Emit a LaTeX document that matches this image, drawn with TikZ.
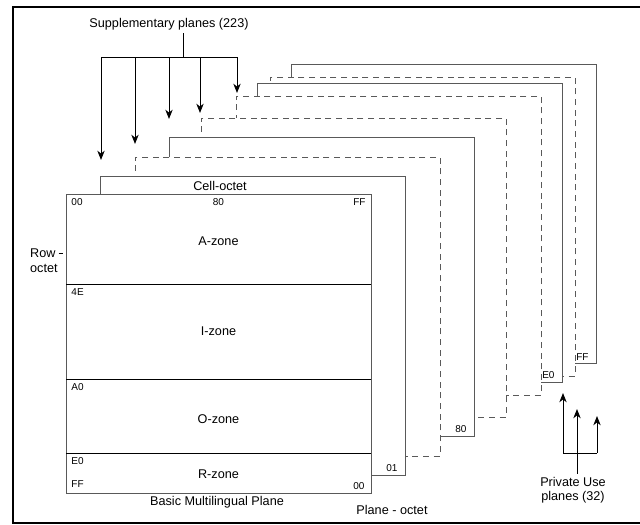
\documentclass[tikz,border=0pt]{standalone}
\usepackage{fontspec}
\setmainfont{Liberation Sans}
\usetikzlibrary{arrows.meta,positioning,calc}

\tikzset{
  plane/.style={draw=black!65, fill=white, anchor=north west, inner sep=0pt,
    outer sep=0pt, minimum width=228.75pt, minimum height=224.25pt},
  planedash/.style={dash pattern=on 4.5pt off 3.5pt},
  lbl/.style={font=\fontsize{9.5}{10.5}\selectfont, inner sep=2pt},
  hexlbl/.style={font=\fontsize{7.5}{9}\selectfont, inner sep=0pt},
}

\begin{document}
\begin{tikzpicture}[x=0.75pt, y=-0.75pt, line width=0.7pt,
    >={Stealth[length=7pt,width=5.5pt,inset=2.2pt]}]
  \useasboundingbox (0,0) rectangle (640,525);

  % Frame
  \draw[line width=1.5pt] (640,7) -- (13,7) -- (13,523) -- (640,523);

  % Planes, from the back to the front
  \foreach \n/\x/\y/\ls in {8/291/64/solid, 7/270/77/planedash, 6/257/83/solid,
      5/236/96/planedash, 4/201/118/planedash, 3/169/137/solid,
      2/135/157/planedash, 1/100/176/solid, 0/66/194/solid}
    \node[plane, \ls] (p\n) at (\x,\y) {};

  % Plane-octet values
  \node[hexlbl, anchor=south east] (pFF) at ($(p8.south east)+(-7,-2.5)$) {FF};
  \node[hexlbl, anchor=south east] (pE0) at ($(p6.south east)+(-7,-2.5)$) {E0};
  \node[hexlbl, anchor=south east] (p80) at ($(p3.south east)+(-7,-2.5)$) {80};
  \node[hexlbl, anchor=south east] (p01) at ($(p1.south east)+(-7,-2.5)$) {01};

  % Zones of the Basic Multilingual Plane
  \draw ($(p0.north west)+(0,90)$) -- ($(p0.north east)+(0,90)$);
  \draw ($(p0.north west)+(0,185)$) -- ($(p0.north east)+(0,185)$);
  \draw ($(p0.north west)+(0,259)$) -- ($(p0.north east)+(0,259)$);
  \node[lbl] (azone) at (218.5,241) {A-zone};
  \node[lbl] (izone) at (218.5,331) {I-zone};
  \node[lbl] (ozone) at (218.5,419) {O-zone};
  \node[lbl] (rzone) at (218.5,474) {R-zone};

  % Row and cell values
  \node[hexlbl, anchor=north west] (c00) at ($(p0.north west)+(5,4.5)$) {00};
  \node[hexlbl, anchor=north] (c80) at (218.5,198.5) {80};
  \node[hexlbl, anchor=north east] (cFF) at ($(p0.north east)+(-5,4.5)$) {FF};
  \node[hexlbl, anchor=north west] (r4E) at ($(p0.north west)+(5,94.5)$) {4E};
  \node[hexlbl, anchor=north west] (rA0) at ($(p0.north west)+(5,189.5)$) {A0};
  \node[hexlbl, anchor=north west] (rE0) at ($(p0.north west)+(5,263.5)$) {E0};
  \node[hexlbl, anchor=south west] (rFF) at ($(p0.south west)+(5,-5.5)$) {FF};
  \node[hexlbl, anchor=south east] (p00) at ($(p0.south east)+(-6,-2.5)$) {00};

  % Axis captions
  \node[lbl] (cell) at (220,186) {Cell-octet};
  \node[lbl, anchor=west] (row) at (27,253) {Row};
  \node[lbl, anchor=west] (octet) at (27,268) {octet};
  \draw ($(row.east)+(0,0)$) -- ($(p0.west |- row.east)+(-3,0)$);
  \node[lbl] (bmp) at (217,502) {Basic Multilingual Plane};
  \node[lbl] (planeoctet) at (392,510) {Plane - octet};

  % Supplementary planes
  \node[lbl] (supp) at (169,24) {Supplementary planes (223)};
  \coordinate (split) at (183,57);
  \draw (supp.south -| split) -- (split);
  \draw (101,57) -- (237,57);
  \foreach \i/\x/\t in {1/101/160, 2/135/144, 3/169/119, 4/200/113, 5/237/93} {
    \coordinate (s\i) at (\x,57);
    \coordinate (t\i) at (\x,\t);
    \draw[->] (s\i) -- (t\i);
  }

  % Private Use planes
  \node[lbl, align=center] (priv) at (573,490) {Private Use\\planes (32)};
  \coordinate (u1) at (563,453);
  \coordinate (u2) at (577,453);
  \coordinate (u3) at (597,453);
  \draw (u1) -- (u3);
  \draw[->] (u1) -- (563,393);
  \draw[->] (priv.north -| u2) -- (577,409);
  \draw[->] (u3) -- (597,416);
\end{tikzpicture}
\end{document}
